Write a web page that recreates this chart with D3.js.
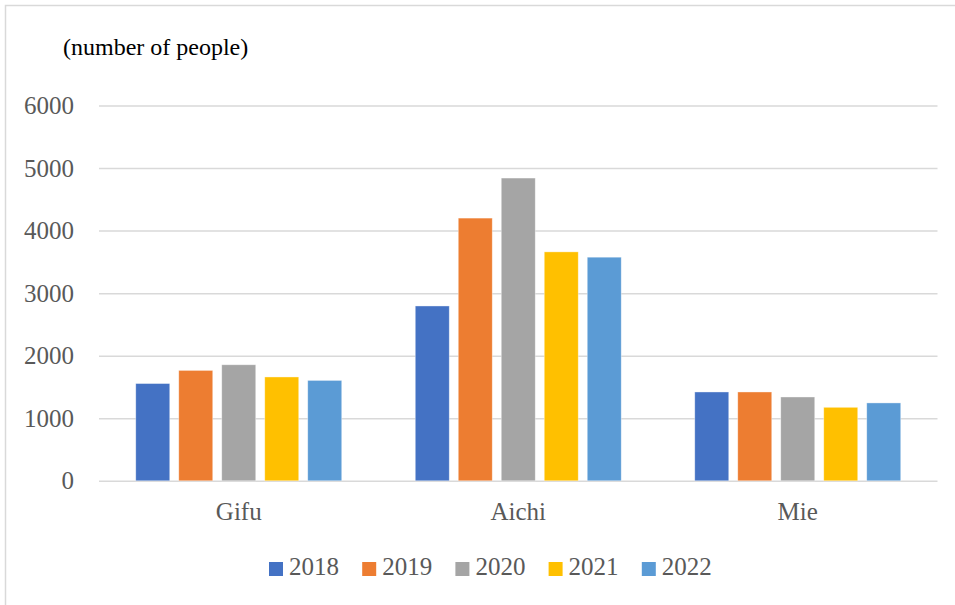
<!DOCTYPE html>
<html>
<head>
<meta charset="utf-8">
<script src="https://cdn.jsdelivr.net/npm/d3@7"></script>
<style>
  html, body { margin: 0; padding: 0; background: #fff; }
  svg { display: block; }
  text { font-family: "Liberation Serif", "Times New Roman", serif; }
</style>
</head>
<body>
<svg id="chart" width="955" height="605"></svg>
<script>
const categories = ["Gifu", "Aichi", "Mie"];
const years = ["2018", "2019", "2020", "2021", "2022"];
const v2018 = [1555, 2795, 1420];
const v2019 = [1765, 4200, 1420];
const v2020 = [1855, 4840, 1340];
const v2021 = [1660, 3660, 1175];
const v2022 = [1605, 3575, 1245];
const yTicks = [0, 1000, 2000, 3000, 4000, 5000, 6000];
const colors = ["#4472c4", "#ed7d31", "#a5a5a5", "#ffc000", "#5b9bd5"];
const yAxisTitle = "(number of people)";

const seriesValues = [v2018, v2019, v2020, v2021, v2022];

const svg = d3.select("#chart");

// outer frame
svg.append("rect")
  .attr("x", 5.5).attr("y", 5.5)
  .attr("width", 1000).attr("height", 700)
  .attr("fill", "none").attr("stroke", "#d9d9d9").attr("stroke-width", 1.5);

const plot = { left: 99, right: 937.5, top: 105.5, bottom: 480.8 };

const y = d3.scaleLinear().domain([0, 6000]).range([plot.bottom, plot.top]);
const x0 = d3.scaleBand().domain(categories).range([plot.left, plot.right]).padding(0);
const x1 = d3.scaleBand().domain(years).range([0, x0.bandwidth()])
  .paddingInner(9 / 43).paddingOuter(0.855);
const color = d3.scaleOrdinal().domain(years).range(colors);

// gridlines
const yAxis = d3.axisLeft(y).tickValues(yTicks).tickSize(-(plot.right - plot.left)).tickPadding(25).tickFormat(d3.format("d"));
const gy = svg.append("g").attr("transform", `translate(${plot.left},0)`).call(yAxis);
gy.select(".domain").remove();
gy.selectAll(".tick line").attr("stroke", "#d9d9d9").attr("stroke-width", 1.5);
gy.selectAll(".tick text")
  .attr("fill", "#595959")
  .style("font-size", "25px")
  .style("font-family", '"Liberation Serif", serif');

// bars
const groups = svg.append("g").selectAll("g")
  .data(categories)
  .join("g")
  .attr("transform", d => `translate(${x0(d)},0)`);

groups.selectAll("rect")
  .data((c, i) => years.map((yr, j) => ({ year: yr, value: seriesValues[j][i] })))
  .join("rect")
  .attr("x", d => x1(d.year))
  .attr("y", d => y(d.value))
  .attr("width", x1.bandwidth())
  .attr("height", d => y(0) - y(d.value))
  .attr("fill", d => color(d.year))
  .attr("stroke", "#ffffff")
  .attr("stroke-opacity", 0.5)
  .attr("stroke-width", 0.75);

// category axis labels
const xAxis = d3.axisBottom(x0).tickSize(0).tickPadding(21);
const gx = svg.append("g").attr("transform", `translate(0,${plot.bottom})`).call(xAxis);
gx.select(".domain").remove();
gx.selectAll(".tick text")
  .attr("fill", "#595959")
  .style("font-size", "25px")
  .style("font-family", '"Liberation Serif", serif');

// axis title
svg.append("text")
  .attr("x", 63).attr("y", 55)
  .attr("fill", "#000")
  .style("font-size", "24px")
  .text(yAxisTitle);

// legend
const legend = svg.append("g").attr("transform", "translate(269,562)");
const li = legend.selectAll("g").data(years).join("g")
  .attr("transform", (d, i) => `translate(${i * 93.2},0)`);
li.append("rect").attr("width", 14).attr("height", 14).attr("fill", d => color(d));
li.append("text")
  .attr("x", 20).attr("y", 13)
  .attr("fill", "#595959")
  .style("font-size", "25px")
  .text(d => d);
</script>
</body>
</html>
